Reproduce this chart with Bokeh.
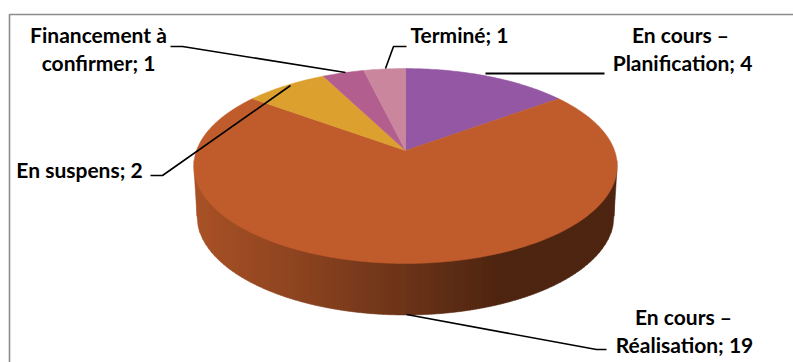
import numpy as np
from bokeh.plotting import figure
from bokeh.embed import file_html
from bokeh.resources import INLINE
from bokeh.core.properties import value

# Slices, clockwise from twelve o'clock
statuses = ["En cours – Planification", "En cours – Réalisation", "En suspens", "Financement à confirmer", "Terminé"]
counts = [4, 19, 2, 1, 1]
face_colors = ["#9457a3", "#c05c2c", "#dca02e", "#b25e8e", "#c9869c"]

FONT = "Lato"
W, H = 793, 362
CX, CY = 405.0, 150.0     # pie centre on the page
RX, RY, TILT = 209.0, 95.0, 0.159   # perspective disk

p = figure(width=W, height=H, x_range=(0, W), y_range=(H, 0), output_backend="svg",
           toolbar_location=None, min_border=0, outline_line_color=None)
p.axis.visible = False
p.grid.visible = False
p.background_fill_color = "white"
p.border_fill_color = "white"


def disk(theta):
    """Project a clockwise-from-top angle (radians) onto the tilted pie face."""
    u, v = np.sin(theta), np.cos(theta)
    w = 1 + TILT * v
    return CX + RX * u / w, CY - RY * v / w


# Frame: only its top and left edges fall on the page
p.line([9, 9, 793], [362, 14, 14], line_color="#8c8c8c", line_width=1.6)

# Side wall: vertical shaded strips between the face rim and the lower rim
rim_t = np.radians(np.linspace(90, 270, 721))
rim_x, rim_y = disk(rim_t)
LOW_CX, LOW_CY, LOW_A, LOW_B = 405.0, 215.5, 208.5, 99.0
edges = np.arange(193.5, 618, 3.0)
stops_x = [193, 300, 405, 500, 617]
stops = np.array([[0xaa, 0x52, 0x27], [0x8c, 0x44, 0x20], [0x6c, 0x34, 0x19], [0x4e, 0x25, 0x11], [0x4e, 0x25, 0x11]])
order = np.argsort(rim_x)
rim_xmin, rim_xmax = rim_x.min(), rim_x.max()
xs, ys, cols = [], [], []
for a, b in zip(edges[:-1], edges[1:]):
    strip = np.linspace(a, b, 4)
    top = np.interp(strip, rim_x[order], rim_y[order]) - 2
    offset = np.abs(strip - LOW_CX)
    lim = np.clip(1 - (offset / LOW_A) ** 2, 0, 1)
    bot = LOW_CY + LOW_B * np.sqrt(lim)
    # Past the lower rim the silhouette tapers back up to the face's widest point
    span = rim_xmax - LOW_CX - LOW_A
    beyond = np.clip((offset - LOW_A) / span, 0, 1)
    bot = np.where(offset > LOW_A, LOW_CY + (166 - LOW_CY) * beyond, bot)
    xs.append(list(strip) + list(strip[::-1]))
    ys.append(list(top) + list(bot[::-1]))
    mid = (a + b) / 2
    rgb = [int(np.interp(mid, stops_x, stops[:, i])) for i in range(3)]
    cols.append("#%02x%02x%02x" % tuple(rgb))
p.patches(xs, ys, fill_color=cols, line_color=cols, line_width=0.5)

# Pie face
bounds = np.radians(np.concatenate([[0], np.cumsum(counts)]) / sum(counts) * 360)
for start, end, col in zip(bounds[:-1], bounds[1:], face_colors):
    t = np.linspace(start, end, max(4, int((end - start) * 60)))
    x, y = disk(t)
    p.patch([CX, *x], [CY, *y], fill_color=col, line_color=col, line_width=0.5)

# Leader lines
leaders = [
    ([170, 182, 345], [46, 46, 72], 1.6),
    ([385, 393, 406], [68, 46, 46], 1.6),
    ([485, 604], [73, 73], 2.0),
    ([150, 162, 290], [175, 175, 85], 1.6),
    ([406, 596, 606], [314, 349, 349], 1.6),
]
for lx, ly, lw in leaders:
    p.line(lx, ly, line_color="black", line_width=lw)

# Slice labels
labels = [
    ("Financement à", 98, 34), ("confirmer; 1", 98, 62),
    ("Terminé; 1", 459, 34),
    ("En cours –", 680, 34), ("Planification; 4", 682, 62),
    ("En suspens; 2", 79, 169),
    ("En cours –", 683, 316), ("Réalisation; 19", 684, 344),
]
p.text([l[1] for l in labels], [l[2] for l in labels], text=[l[0] for l in labels],
       text_font=value(FONT), text_font_style="bold", text_font_size="21px",
       text_align="center", text_baseline="middle", text_color="black")

open("out.html", "w").write(file_html(p, INLINE))
